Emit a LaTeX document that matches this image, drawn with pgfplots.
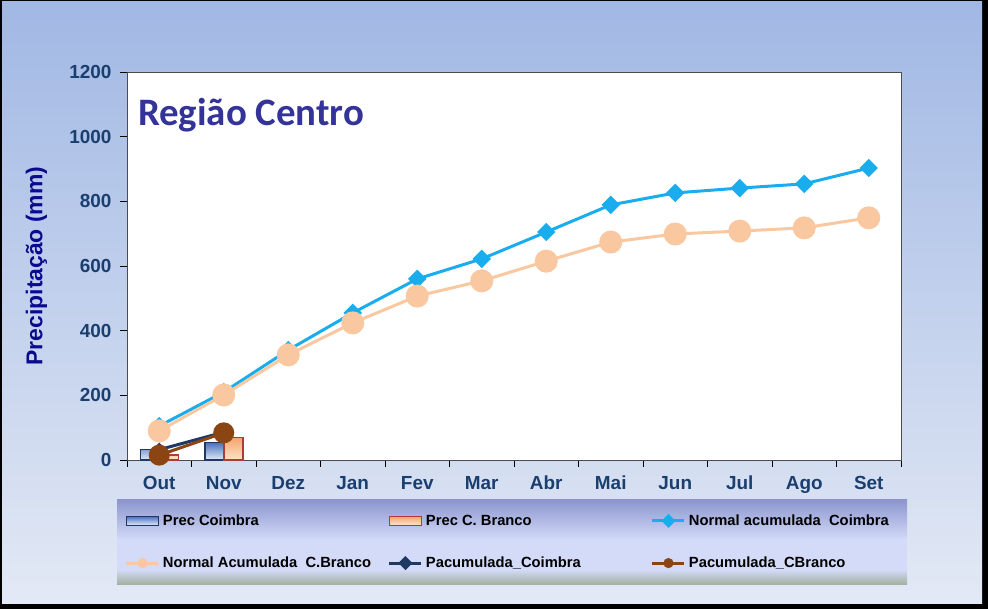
\documentclass[border=0pt]{standalone}
\usepackage{pgfplots}
\pgfplotsset{compat=1.18}
\usepackage{pgfplotstable}
\usepackage{fontspec}
\setmainfont{Liberation Sans}
\newfontfamily\titlefont{Carlito}
\definecolor{bgtop}{HTML}{A1B8E4}
\definecolor{bgbot}{HTML}{E3E9F5}
\definecolor{tickblue}{HTML}{1A3F6F}
\definecolor{labnavy}{HTML}{0A0A8C}
\definecolor{titleblue}{HTML}{333399}
\definecolor{normc}{HTML}{1AADEE}
\definecolor{normb}{HTML}{F9C8A0}
\definecolor{pacc}{HTML}{1F3864}
\definecolor{pacb}{HTML}{8B4513}
\definecolor{legtop}{HTML}{8D96CE}
\definecolor{legmid}{HTML}{D3DBF8}
\definecolor{legbot}{HTML}{9FAE9C}
\definecolor{barcT}{HTML}{4A70BE}
\definecolor{barcB}{HTML}{E4EBF8}
\definecolor{barbT}{HTML}{F5A66A}
\definecolor{barbB}{HTML}{FDE3CC}
\definecolor{barbD}{HTML}{B03A3A}

\pgfplotsset{barlegend/.style={legend image code/.code={\draw (0bp,-4.5bp) rectangle (32bp,4.5bp);}}}

\pgfplotstableread{
x precc precb
0 32 15
1 54 69
}\prectab

\pgfplotstableread{
x normc normb
0 105 90
1 210 201
2 340 325
3 455 424
4 560 507
5 622 554
6 705 615
7 789 674
8 826 699
9 841 708
10 854 718
11 903 749
}\normtab

\pgfplotstableread{
x pacc pacb
0 32 15
1 86 84
}\pactab

\begin{document}
\begin{tikzpicture}
\fill[black] (0bp,0bp) rectangle (988bp,609bp);
\shade[top color=bgtop,bottom color=bgbot] (2bp,5bp) rectangle (982bp,607bp);
\shade[top color=legtop,bottom color=legmid] (117bp,69bp) rectangle (907bp,109bp);
\fill[legmid] (117bp,39bp) rectangle (907bp,69.5bp);
\shade[top color=legmid,bottom color=legbot] (117bp,24bp) rectangle (907bp,39.5bp);
\begin{axis}[
  at={(127bp,149bp)}, anchor=south west,
  width=774bp, height=388bp, scale only axis,
  xmin=-0.5, xmax=11.5, ymin=0, ymax=1200,
  clip=false,
  axis background/.style={fill=white},
  axis line style={black!70, line width=0.8bp},
  tick style={black, line width=0.8bp},
  tick align=outside, tick pos=left,
  major tick length=7bp,
  xtick={-0.5,0.5,...,11.5}, xticklabels={,,,,,,,,,,,,},
  extra x ticks={0,1,2,3,4,5,6,7,8,9,10,11},
  extra x tick labels={Out,Nov,Dez,Jan,Fev,Mar,Abr,Mai,Jun,Jul,Ago,Set},
  extra x tick style={major tick length=0pt},
  ytick={0,200,...,1200},
  /pgf/number format/assume math mode=true,
  /pgf/number format/1000 sep={},
  ticklabel style={font=\bfseries\fontsize{19}{21}\selectfont, text=tickblue},
  xticklabel style={text height=14bp, text depth=4bp, yshift=-12bp},
  yticklabel style={xshift=-5bp},
  ylabel={Precipitação (mm)},
  ylabel style={font=\bfseries\fontsize{23}{26}\selectfont, text=labnavy, at={(axis description cs:-0.117,0.5)}, anchor=center},
  legend columns=3,
  legend cell align=left,
  legend style={at={(-0.0026,-0.2113)}, anchor=west, draw=none, fill=none, inner sep=0pt, outer sep=0pt,
    row sep=28bp, column sep=0bp, font=\bfseries\fontsize{14.8}{16}\selectfont, nodes={inner sep=1bp},
    /tikz/every odd column/.append style={column sep=2bp}},
  legend image code/.code={\draw[mark repeat=2, mark phase=2, mark size=3.5bp] plot coordinates {(0bp,0bp) (16bp,0bp) (32bp,0bp)};},
]
\addplot[ybar, bar width=19bp, bar shift=-9.5bp, draw=pacc, line width=1.5bp, top color=barcT, bottom color=barcB, barlegend] table[x=x,y=precc]{\prectab};
\addlegendentry{\makebox[224bp][l]{Prec Coimbra}}
\addplot[ybar, bar width=19bp, bar shift=9.5bp, draw=barbD, line width=1.5bp, top color=barbT, bottom color=barbB, barlegend] table[x=x,y=precb]{\prectab};
\addlegendentry{\makebox[224bp][l]{Prec C. Branco}}
\addplot[normc, line width=3bp, mark=square*, mark size=5bp, mark options={rotate=45, fill=normc, draw=normc}] table[x=x,y=normc]{\normtab};
\addlegendentry{\makebox[224bp][l]{Normal acumulada\ \ Coimbra}}
\addplot[normb, line width=3bp, mark=*, mark size=10bp, mark options={fill=normb, draw=normb}] table[x=x,y=normb]{\normtab};
\addlegendentry{\makebox[224bp][l]{Normal Acumulada\ \ C.Branco}}
\addplot[pacc, line width=3bp, mark=square*, mark size=3.5bp, mark options={rotate=45, fill=pacc, draw=pacc}] table[x=x,y=pacc]{\pactab};
\addlegendentry{\makebox[224bp][l]{Pacumulada\_Coimbra}}
\addplot[pacb, line width=3bp, mark=*, mark size=9bp, mark options={fill=pacb, draw=pacb}] table[x=x,y=pacb]{\pactab};
\addlegendentry{\makebox[224bp][l]{Pacumulada\_CBranco}}
\node[anchor=west, inner sep=0pt, font=\titlefont\bfseries\fontsize{39}{44}\selectfont, text=titleblue] at (rel axis cs:0.014,0.889) {Região Centro};
\end{axis}
\end{tikzpicture}
\end{document}
